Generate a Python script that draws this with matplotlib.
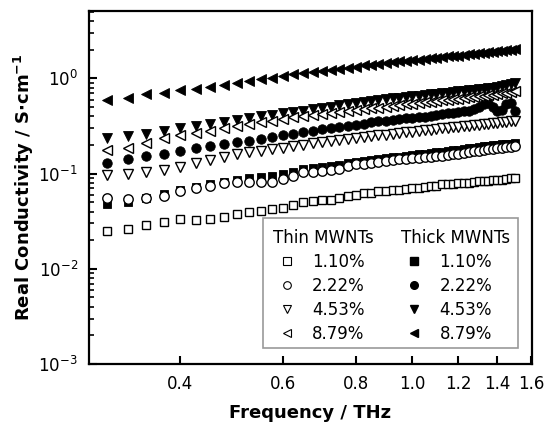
import numpy as np
import matplotlib
matplotlib.use('Agg')
import matplotlib.pyplot as plt
from matplotlib.patches import Rectangle
from matplotlib.lines import Line2D
from matplotlib.ticker import FixedLocator, FixedFormatter, NullLocator

# frequency points (THz)
freq = [0.300, 0.325, 0.350, 0.375, 0.400, 0.425, 0.450, 0.475, 0.500, 0.525,
        0.550, 0.575, 0.600, 0.625, 0.650, 0.675, 0.700, 0.725, 0.750, 0.775,
        0.800, 0.825, 0.850, 0.875, 0.900, 0.925, 0.950, 0.975, 1.000, 1.025,
        1.050, 1.075, 1.100, 1.125, 1.150, 1.175, 1.200, 1.225, 1.250, 1.275,
        1.300, 1.325, 1.350, 1.375, 1.400, 1.425, 1.450, 1.475, 1.500]

# thin MWNTs
thin_110 = [0.025, 0.026, 0.029, 0.031, 0.033, 0.0328, 0.033, 0.0353, 0.0377, 0.040,
            0.0407, 0.0424, 0.0434, 0.047, 0.0498, 0.052, 0.0528, 0.0528, 0.0554, 0.0586,
            0.060, 0.063, 0.063, 0.065, 0.066, 0.067, 0.068, 0.069, 0.070, 0.071,
            0.073, 0.074, 0.075, 0.077, 0.078, 0.078, 0.079, 0.079, 0.080, 0.082,
            0.083, 0.084, 0.084, 0.085, 0.086, 0.086, 0.088, 0.089, 0.091]
thin_222 = [0.056, 0.054, 0.055, 0.058, 0.065, 0.070, 0.074, 0.079, 0.081, 0.081,
            0.081, 0.082, 0.087, 0.095, 0.103, 0.105, 0.107, 0.109, 0.111, 0.120,
            0.125, 0.127, 0.130, 0.133, 0.136, 0.139, 0.141, 0.143, 0.145, 0.147,
            0.149, 0.151, 0.153, 0.155, 0.157, 0.159, 0.162, 0.165, 0.168, 0.171,
            0.174, 0.177, 0.180, 0.182, 0.184, 0.187, 0.190, 0.192, 0.195]
thin_453 = [0.097, 0.100, 0.103, 0.108, 0.117, 0.129, 0.140, 0.151, 0.160, 0.167,
            0.174, 0.181, 0.188, 0.195, 0.202, 0.208, 0.214, 0.220, 0.226, 0.232,
            0.237, 0.242, 0.247, 0.252, 0.257, 0.262, 0.267, 0.272, 0.276, 0.280,
            0.285, 0.290, 0.294, 0.298, 0.302, 0.306, 0.310, 0.314, 0.318, 0.322,
            0.326, 0.330, 0.334, 0.338, 0.342, 0.346, 0.350, 0.353, 0.357]
thin_879 = [0.175, 0.187, 0.212, 0.238, 0.255, 0.268, 0.282, 0.298, 0.315, 0.330,
            0.345, 0.360, 0.375, 0.390, 0.405, 0.415, 0.425, 0.435, 0.445, 0.455,
            0.465, 0.475, 0.485, 0.495, 0.505, 0.515, 0.525, 0.535, 0.545, 0.553,
            0.562, 0.570, 0.580, 0.590, 0.600, 0.607, 0.615, 0.623, 0.632, 0.640,
            0.650, 0.658, 0.667, 0.675, 0.685, 0.695, 0.705, 0.715, 0.730]

# thick MWNTs
thick_110 = [0.048, 0.050, 0.055, 0.061, 0.067, 0.072, 0.077, 0.082, 0.086, 0.090,
             0.092, 0.094, 0.099, 0.105, 0.111, 0.114, 0.117, 0.120, 0.123, 0.128,
             0.132, 0.135, 0.139, 0.142, 0.145, 0.148, 0.151, 0.154, 0.157, 0.159,
             0.162, 0.165, 0.167, 0.170, 0.173, 0.176, 0.179, 0.182, 0.185, 0.188,
             0.191, 0.194, 0.197, 0.199, 0.201, 0.203, 0.205, 0.207, 0.209]
thick_222 = [0.130, 0.141, 0.155, 0.162, 0.172, 0.186, 0.196, 0.204, 0.213, 0.222,
             0.232, 0.242, 0.252, 0.262, 0.272, 0.282, 0.292, 0.300, 0.310, 0.318,
             0.327, 0.335, 0.345, 0.355, 0.360, 0.365, 0.372, 0.380, 0.385, 0.390,
             0.398, 0.405, 0.410, 0.420, 0.430, 0.435, 0.440, 0.450, 0.460, 0.480,
             0.500, 0.540, 0.550, 0.500, 0.450, 0.470, 0.540, 0.550, 0.450]
thick_453 = [0.234, 0.248, 0.262, 0.279, 0.300, 0.320, 0.335, 0.350, 0.365, 0.380,
             0.400, 0.415, 0.430, 0.445, 0.460, 0.475, 0.490, 0.505, 0.520, 0.535,
             0.550, 0.565, 0.580, 0.595, 0.610, 0.620, 0.630, 0.640, 0.650, 0.660,
             0.670, 0.680, 0.690, 0.700, 0.710, 0.720, 0.730, 0.740, 0.750, 0.760,
             0.770, 0.780, 0.790, 0.800, 0.820, 0.840, 0.860, 0.880, 0.900]
thick_879 = [0.60, 0.63, 0.68, 0.71, 0.75, 0.78, 0.82, 0.86, 0.90, 0.94,
             0.98, 1.02, 1.06, 1.10, 1.14, 1.17, 1.21, 1.24, 1.27, 1.30,
             1.33, 1.37, 1.40, 1.43, 1.45, 1.48, 1.51, 1.54, 1.56, 1.58,
             1.61, 1.63, 1.65, 1.67, 1.70, 1.72, 1.74, 1.76, 1.79, 1.81,
             1.83, 1.86, 1.88, 1.90, 1.92, 1.95, 1.97, 1.99, 2.02]

labels = ['1.10%', '2.22%', '4.53%', '8.79%']
markers = ['s', 'o', 'v', '<']
thin = [thin_110, thin_222, thin_453, thin_879]
thick = [thick_110, thick_222, thick_453, thick_879]
sizes = [5.8, 6.8, 7.6, 7.6]

xticks = [0.4, 0.6, 0.8, 1.0, 1.2, 1.4, 1.6]
xticklabels = ['0.4', '0.6', '0.8', '1.0', '1.2', '1.4', '1.6']

fig = plt.figure(figsize=(5.56, 4.26), dpi=100)
ax = fig.add_axes([0.160, 0.1455, 0.797, 0.8285])

# filled (thick) first, open (thin) on top
for y, m, s in zip(thick, markers, sizes):
    ax.plot(freq, y, linestyle='none', marker=m, markersize=s,
            color='black', markeredgewidth=0.6)
for y, m, s in zip(thin, markers, sizes):
    ax.plot(freq, y, linestyle='none', marker=m, markersize=s,
            markerfacecolor='white', markeredgecolor='black', markeredgewidth=1.0)

ax.set_xscale('log')
ax.set_yscale('log')
ax.set_xlim(0.279, 1.605)
ax.set_ylim(1e-3, 5.1)

ax.xaxis.set_major_locator(FixedLocator(xticks))
ax.xaxis.set_major_formatter(FixedFormatter(xticklabels))
ax.xaxis.set_minor_locator(NullLocator())

ax.tick_params(which='both', direction='in', top=False, right=False,
               labelsize=12, width=1.5)
ax.tick_params(which='major', length=6, pad=8)
ax.tick_params(which='minor', length=3.5, width=1.2)
for sp in ax.spines.values():
    sp.set_linewidth(1.6)

ax.set_xlabel('Frequency / THz', fontsize=13, fontweight='bold', labelpad=8)
ax.set_ylabel('Real Conductivity / S$\\mathbf{\\cdot}$cm$^{\\mathbf{-1}}$',
              fontsize=13, fontweight='bold', labelpad=2)

# legend: two columns with titles, one frame around both
thin_handles = [Line2D([], [], linestyle='none', marker=m, markersize=5.5,
                       markerfacecolor='white', markeredgecolor='black',
                       markeredgewidth=0.8) for m in markers]
thick_handles = [Line2D([], [], linestyle='none', marker=m, markersize=5.5,
                        color='black') for m in markers]

leg_kw = dict(frameon=False, fontsize=12, title_fontsize=12, alignment='left',
              handlelength=1.6, handletextpad=0.7, labelspacing=0.35,
              borderpad=0.2, loc='upper left')
leg1 = ax.legend(thin_handles, labels, title='Thin MWNTs',
                 bbox_to_anchor=(0.390, 0.415), **leg_kw)
ax.add_artist(leg1)
leg2 = ax.legend(thick_handles, labels, title='Thick MWNTs',
                 bbox_to_anchor=(0.678, 0.415), **leg_kw)

ax.add_patch(Rectangle((0.393, 0.045), 0.576, 0.37, transform=ax.transAxes,
                       fill=True, facecolor='white', edgecolor='#999999',
                       linewidth=1.2, zorder=4))
leg1.set_zorder(5)
leg2.set_zorder(5)

fig.savefig('out.png', dpi=100)
